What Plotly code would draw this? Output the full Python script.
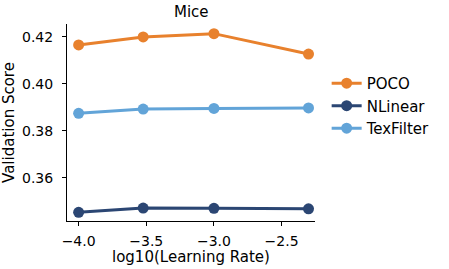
import plotly.graph_objects as go

log_lr = [-4.0, -3.523, -3.0, -2.301]
poco = [0.4165, 0.4199, 0.4213, 0.4126]
nlinear = [0.3453, 0.3471, 0.3470, 0.3468]
texfilter = [0.3874, 0.3892, 0.3895, 0.3897]

series = [("POCO", poco, "#e8812d"), ("NLinear", nlinear, "#2b4673"), ("TexFilter", texfilter, "#62a4d8")]

fig = go.Figure()
for name, vals, col in series:
    fig.add_trace(go.Scatter(x=log_lr, y=vals, name=name, mode="lines+markers",
                             line=dict(color=col, width=3),
                             marker=dict(color=col, size=11)))

font = "DejaVu Sans"
fig.update_layout(
    width=449, height=269,
    margin=dict(l=67, r=134, t=24, b=48, autoexpand=False),
    plot_bgcolor="white", paper_bgcolor="white",
    font=dict(family=font, size=14, color="black"),
    xaxis=dict(range=[-4.086, -2.253], tickvals=[-4.0, -3.5, -3.0, -2.5],
               ticktext=["\u22124.0", "\u22123.5", "\u22123.0", "\u22122.5"],
               showline=True, linecolor="black", linewidth=1, ticks="outside", ticklen=4,
               tickcolor="black", showgrid=False, zeroline=False, ticklabelstandoff=3,
               automargin=False),
    yaxis=dict(range=[0.3416, 0.4254], tickvals=[0.36, 0.38, 0.40, 0.42],
               ticktext=["0.36", "0.38", "0.40", "0.42"],
               showline=True, linecolor="black", linewidth=1, ticks="outside", ticklen=4,
               tickcolor="black", showgrid=False, zeroline=False, ticklabelstandoff=6,
               automargin=False,
               title=dict(text="Validation Score", standoff=6, font=dict(size=15))),
    legend=dict(x=1.047, y=0.584, xanchor="left", yanchor="middle", bgcolor="rgba(0,0,0,0)",
                font=dict(size=15), tracegroupgap=0, itemwidth=30),
    showlegend=True,
    annotations=[
        dict(text="Mice", x=0.5, xref="paper", y=1.059, yref="paper",
             xanchor="center", yanchor="middle", showarrow=False, font=dict(size=15)),
        dict(text="log10(Learning Rate)", x=0.5, xref="paper", y=-0.181, yref="paper",
             xanchor="center", yanchor="middle", showarrow=False, font=dict(size=15)),
    ],
)

fig.write_html("out.html", config={"displayModeBar": False},
               post_script="document.body.style.margin='0';")
